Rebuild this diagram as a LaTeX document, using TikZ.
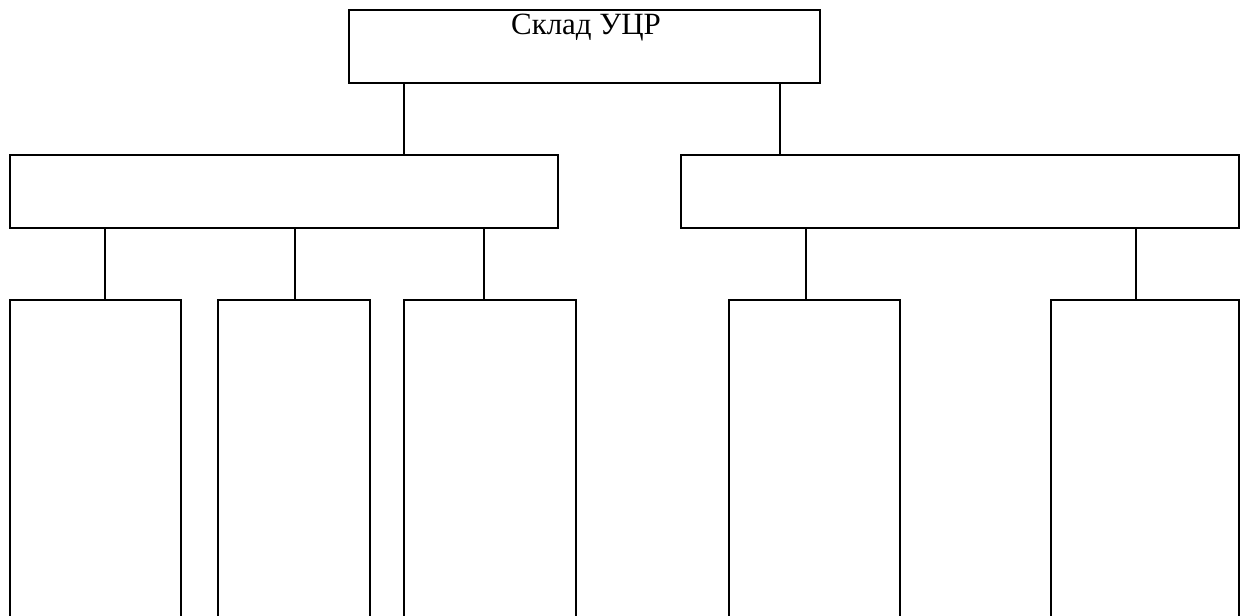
\documentclass[tikz,border=0pt]{standalone}
\usepackage{fontspec}
\setmainfont{Liberation Serif}
\begin{document}
\begin{tikzpicture}[x=0.025cm, y=-0.025cm,
  box/.style={draw, line width=0.75pt, inner sep=0pt, outer sep=0pt},
  conn/.style={draw, line width=0.75pt}]
\useasboundingbox (0,0) rectangle (1240,616);
\clip (0,0) rectangle (1240,616);
% top
\node[box, minimum width=471*0.025cm, minimum height=73*0.025cm] (top) at (584.5,46.5) {};
\node[font=\fontsize{22pt}{26pt}\selectfont, anchor=base, inner sep=0pt] (title) at (586,35) {Склад УЦР};
% middle
\node[box, minimum width=548*0.025cm, minimum height=73*0.025cm] (L) at (284,191.5) {};
\node[box, minimum width=558*0.025cm, minimum height=73*0.025cm] (R) at (960,191.5) {};
% bottom (cut off by the page edge)
\node[box, minimum width=171*0.025cm, minimum height=340*0.025cm] (b1) at (95.5,470) {};
\node[box, minimum width=152*0.025cm, minimum height=340*0.025cm] (b2) at (294,470) {};
\node[box, minimum width=172*0.025cm, minimum height=340*0.025cm] (b3) at (490,470) {};
\node[box, minimum width=171*0.025cm, minimum height=340*0.025cm] (b4) at (814.5,470) {};
\node[box, minimum width=188*0.025cm, minimum height=340*0.025cm] (b5) at (1145,470) {};
% connector columns
\coordinate (x1) at (404,0);
\coordinate (x2) at (780,0);
\coordinate (x3) at (105,0);
\coordinate (x4) at (295,0);
\coordinate (x5) at (484,0);
\coordinate (x6) at (806,0);
\coordinate (x7) at (1136,0);
\draw[conn] (top.south -| x1) -- (L.north -| x1);
\draw[conn] (top.south -| x2) -- (R.north -| x2);
\draw[conn] (L.south -| x3) -- (b1.north -| x3);
\draw[conn] (L.south -| x4) -- (b2.north -| x4);
\draw[conn] (L.south -| x5) -- (b3.north -| x5);
\draw[conn] (R.south -| x6) -- (b4.north -| x6);
\draw[conn] (R.south -| x7) -- (b5.north -| x7);
\end{tikzpicture}
\end{document}
